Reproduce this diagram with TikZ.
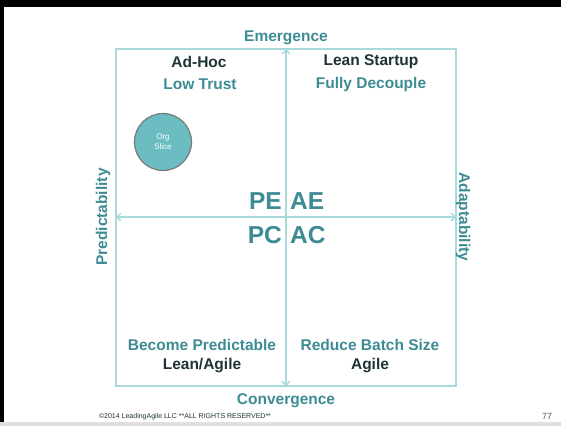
\documentclass[tikz,border=0pt]{standalone}
\usepackage{fontspec}
\setmainfont{Liberation Sans}
\usetikzlibrary{arrows.meta,positioning}
\definecolor{tealtext}{HTML}{3D8C93}
\definecolor{darktext}{HTML}{1E3336}
\definecolor{gridline}{HTML}{A8D9DC}
\definecolor{slicefill}{HTML}{6BBDC1}
\definecolor{sliceedge}{HTML}{7A7A7A}
\tikzset{>={Straight Barb[length=4pt,width=8pt]},
  every node/.style={font=\fontsize{15.5}{17}\selectfont\bfseries,inner sep=0pt},
  frameline/.style={draw=gridline,line width=1.3pt},
  axisline/.style={<->,draw=gridline,line width=1.3pt},
  quadname/.style={text=darktext},
  quadsub/.style={text=tealtext},
  axisname/.style={text=tealtext},
  bigcode/.style={text=tealtext,font=\fontsize{24.5}{26}\selectfont\bfseries},
  slice/.style={circle,fill=slicefill,draw=sliceedge,line width=1.2pt,minimum size=57pt,
    text=white,align=center,font=\fontsize{8}{10}\selectfont}}

\begin{document}
\begin{tikzpicture}[x=1pt,y=-1pt]
\useasboundingbox(0,0)rectangle(561,426);
\fill[white](0,0)rectangle(561,426);
% window frame
\fill[black](0,0)rectangle(561,7);\fill[black](0,0)rectangle(4,423);
\fill[black!12](0,422)rectangle(561,426);
% quadrant box and axes
\coordinate(N)at(286,49);\coordinate(S)at(286,386);
\coordinate(W)at(116,217);\coordinate(E)at(456,217);
\draw[frameline](116,49)rectangle(456,386);
\draw[axisline](S)--(N);\draw[axisline](W)--(E);
% axis names
\node[axisname](emerg)at(286,38){Emergence};
\node[axisname](conv)at(286,401){Convergence};
\node[axisname,rotate=90](pred)at(103,217){Predictability};
\node[axisname,rotate=-90](adapt)at(463,217){Adaptability};
% quadrant labels
\node[quadname](adhoc)at(199,62){Ad-Hoc};\node[quadsub](lowtr)at(200,84){Low Trust};
\node[quadname](leanst)at(371,62){Lean Startup};\node[quadsub](decoup)at(371,84){Fully Decouple};
\node[quadsub](becpred)at(202,345){Become Predictable};\node[quadname](leanag)at(202,366){Lean/Agile};
\node[quadsub](redbatch)at(370,345){Reduce Batch Size};\node[quadname](agile)at(370,366){Agile};
% centre codes
\node[bigcode,anchor=base east](pe)at(282,209){PE};\node[bigcode,anchor=base west](ae)at(290,209){AE};
\node[bigcode,anchor=base east](pc)at(282,243){PC};\node[bigcode,anchor=base west](ac)at(290,243){AC};
\node[slice](orgslice)at(163,142){Org\\Slice};
% footer
\node[font=\fontsize{7}{8}\selectfont,text=darktext](copy)at(185,417){\textcopyright2014 LeadingAgile LLC **ALL RIGHTS RESERVED**};
\node[font=\fontsize{9}{10}\selectfont,text=darktext!80](pagenum)at(547,416){77};
\end{tikzpicture}
\end{document}
